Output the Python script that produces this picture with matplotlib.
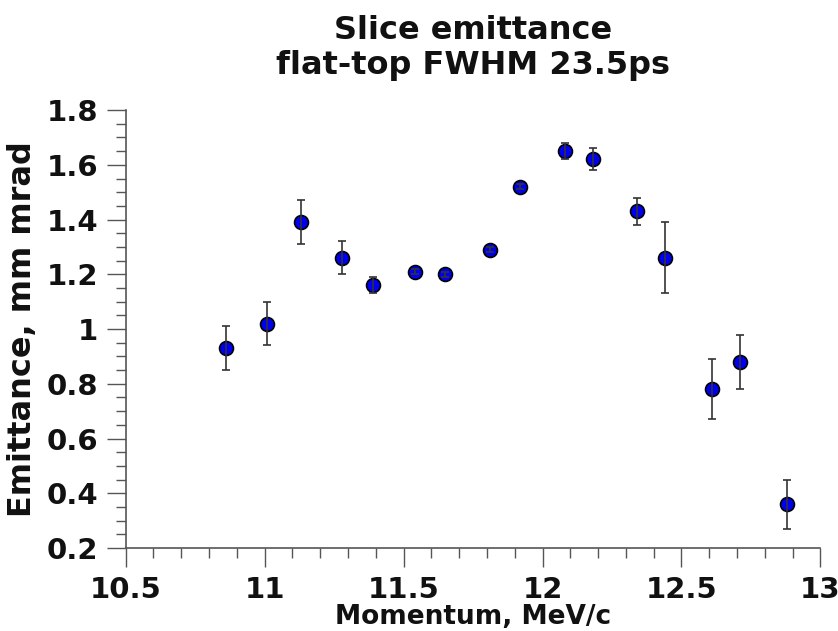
import numpy as np
import matplotlib.pyplot as plt
from matplotlib.ticker import MultipleLocator

# slice momentum (MeV/c), emittance (mm mrad) and its error
momentum = [10.86, 11.01, 11.13, 11.28, 11.39, 11.54, 11.65, 11.81,
            11.92, 12.08, 12.18, 12.34, 12.44, 12.61, 12.71, 12.88]
emittance = [0.93, 1.02, 1.39, 1.26, 1.16, 1.21, 1.20, 1.29,
             1.52, 1.65, 1.62, 1.43, 1.26, 0.78, 0.88, 0.36]
emit_err = [0.08, 0.08, 0.08, 0.06, 0.03, 0.01, 0.01, 0.01,
            0.01, 0.03, 0.04, 0.05, 0.13, 0.11, 0.10, 0.09]

fig = plt.figure(figsize=(8.38, 6.31), dpi=100)
ax = fig.add_axes([0.150, 0.1315, 0.829, 0.694])

ax.plot(momentum, emittance, 'o', ms=10, mfc='#0000ee', mec='black', mew=1.2, zorder=2)
ax.errorbar(momentum, emittance, yerr=emit_err, fmt='none', ecolor='#333333',
            elinewidth=1.2, capsize=3, capthick=1.2, zorder=3)

ax.set_xlim(10.5, 13)
ax.set_ylim(0.2, 1.8)
ax.xaxis.set_major_locator(MultipleLocator(0.5))
ax.xaxis.set_minor_locator(MultipleLocator(0.1))
ax.yaxis.set_major_locator(MultipleLocator(0.2))
ax.yaxis.set_minor_locator(MultipleLocator(0.05))
ax.xaxis.set_major_formatter(plt.FuncFormatter(lambda v, p: f'{v:g}'))
ax.yaxis.set_major_formatter(plt.FuncFormatter(lambda v, p: f'{v:g}'))

for s in ['top', 'right']:
    ax.spines[s].set_visible(False)
for s in ['left', 'bottom']:
    ax.spines[s].set_color('#555555')
    ax.spines[s].set_linewidth(1.2)

ax.tick_params(which='major', length=14, width=1.0, color='#555555', pad=6)
ax.tick_params(which='minor', length=7, width=1.0, color='#555555')
for lab in ax.get_xticklabels() + ax.get_yticklabels():
    lab.set_fontsize(21)
    lab.set_fontweight('bold')
    lab.set_color('#111111')

ax.set_xlabel('Momentum, MeV/c', fontsize=19, fontweight='bold', labelpad=0, color='#111111')
ax.set_ylabel('Emittance, mm mrad', fontsize=23, fontweight='bold', labelpad=6, color='#111111')
ax.set_title('Slice emittance\nflat-top FWHM 23.5ps', fontsize=23, fontweight='bold',
             pad=26, color='#111111', linespacing=1.15)

fig.savefig('out.png', dpi=100)
